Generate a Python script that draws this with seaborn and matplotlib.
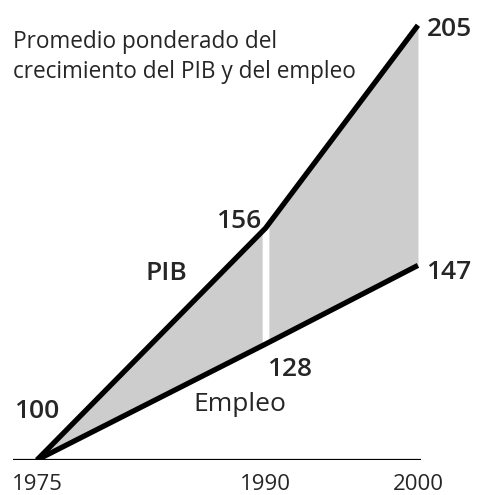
import numpy as np
import pandas as pd
import matplotlib
matplotlib.use("Agg")
import matplotlib.pyplot as plt
import seaborn as sns

years = [1975, 1990, 2000]
pib = [100, 156, 205]
empleo = [100, 128, 147]
tick_labels = ["1975", "1990", "2000"]
title_lines = ["Promedio ponderado del", "crecimiento del PIB y del empleo"]

sns.set_style("white")
plt.rcParams["font.family"] = ["Open Sans", "DejaVu Sans"]

df = pd.DataFrame({"año": years * 2,
                   "valor": pib + empleo,
                   "serie": ["PIB"] * 3 + ["Empleo"] * 3})

fig = plt.figure(figsize=(4.78, 4.95), dpi=100)
ax = fig.add_axes([13 / 478, 1 - 460 / 495, 408 / 478, 460 / 495])

# shaded band with white gap at 1990
gap = 0.22
for x0, x1 in [(years[0], years[1] - gap), (years[1] + gap, years[2])]:
    xs = np.array([x0, x1])
    ax.fill_between(xs, np.interp(xs, years, empleo), np.interp(xs, years, pib),
                    color="#cdcdcd", linewidth=0, zorder=1)

sns.lineplot(data=df, x="año", y="valor", hue="serie",
             palette={"PIB": "black", "Empleo": "black"},
             linewidth=3.8, legend=False, ax=ax, zorder=3,
             solid_capstyle="butt")

ax.axhline(100, color="black", lw=1.6, zorder=2)

ax.set_xlim(1973.43, 2000.2)
ax.set_ylim(100, 211.1)
for s in ax.spines.values():
    s.set_visible(False)
ax.set_xticks(years)
ax.set_xticklabels(tick_labels, fontsize=16)
ax.tick_params(axis="x", length=0, pad=10)
ax.set_yticks([])
ax.set_xlabel("")
ax.set_ylabel("")

bold = dict(fontsize=19, fontweight="semibold", ha="center", va="center")
ax.text(1975.0, 111.6, f"{pib[0]}", **bold)
ax.text(1988.2, 157.5, f"{pib[1]}", **bold)
ax.text(2002.1, 204.0, f"{pib[2]}", **bold, clip_on=False)
ax.text(1991.6, 121.8, f"{empleo[1]}", **bold)
ax.text(2002.0, 145.3, f"{empleo[2]}", **bold, clip_on=False)
ax.text(1983.5, 145.0, "PIB", **bold)
ax.text(1988.3, 113.3, "Empleo", fontsize=19, ha="center", va="center")

ax.text(1973.4, 201.0, title_lines[0], fontsize=16.3, ha="left", va="center")
ax.text(1973.4, 193.8, title_lines[1], fontsize=16.3, ha="left", va="center")

fig.savefig("out.png", dpi=100)
